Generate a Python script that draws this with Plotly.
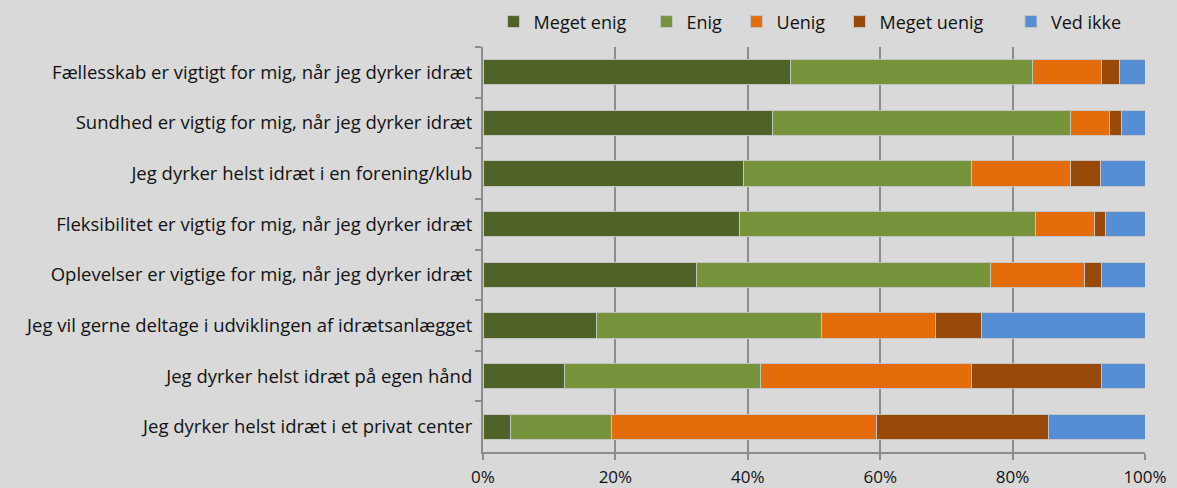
import plotly.graph_objects as go

statements = [
    "Fællesskab er vigtigt for mig, når jeg dyrker idræt",
    "Sundhed er vigtig for mig, når jeg dyrker idræt",
    "Jeg dyrker helst idræt i en forening/klub",
    "Fleksibilitet er vigtig for mig, når jeg dyrker idræt",
    "Oplevelser er vigtige for mig, når jeg dyrker idræt",
    "Jeg vil gerne deltage i udviklingen af idrætsanlægget",
    "Jeg dyrker helst idræt på egen hånd",
    "Jeg dyrker helst idræt i et privat center",
]

meget_enig = [46.5, 43.8, 39.4, 38.7, 32.2, 17.1, 12.3, 4.2]
enig = [36.5, 44.9, 34.4, 44.8, 44.4, 34.1, 29.6, 15.2]
uenig = [10.5, 6.0, 14.9, 8.9, 14.3, 17.2, 31.9, 40.1]
meget_uenig = [2.7, 1.8, 4.6, 1.7, 2.6, 6.9, 19.7, 25.9]
ved_ikke = [3.8, 3.5, 6.7, 5.9, 6.5, 24.7, 6.5, 14.6]

series = [
    ("Meget enig", meget_enig, "#4f6228"),
    ("Enig", enig, "#77933c"),
    ("Uenig", uenig, "#e46c0a"),
    ("Meget uenig", meget_uenig, "#984807"),
    ("Ved ikke", ved_ikke, "#558ed5"),
]

# where each legend entry starts, as a fraction of the plot width
legend_x = [0.016, 0.247, 0.383, 0.5385, 0.7975]

BG = "#d9d9d9"
GRID = "#8c8c8c"
FONT = "Open Sans"

fig = go.Figure()
legends = {}
for i, (name, vals, color) in enumerate(series):
    key = "legend" if i == 0 else f"legend{i + 1}"
    fig.add_trace(go.Bar(
        y=statements,
        x=[v / 100 for v in vals],
        name=name,
        orientation="h",
        legend=key,
        showlegend=True,
        marker=dict(color=color, line=dict(color="#c4c4c4", width=1)),
    ))
    legends[key] = dict(
        orientation="h",
        x=legend_x[i], xanchor="left",
        y=1.062, yanchor="middle",
        font=dict(size=18),
        itemwidth=30,
        bgcolor="rgba(0,0,0,0)",
    )

fig.update_layout(
    barmode="stack",
    bargap=0.5,
    showlegend=True,
    width=1177,
    height=488,
    paper_bgcolor=BG,
    plot_bgcolor=BG,
    font=dict(family=FONT, size=18, color="#111111"),
    margin=dict(l=483, r=32, t=47, b=36, autoexpand=False),
    **legends,
    xaxis=dict(
        range=[0, 1],
        tickvals=[0, 0.2, 0.4, 0.6, 0.8, 1.0],
        tickformat=".0%",
        showgrid=True,
        gridcolor=GRID,
        gridwidth=2,
        showline=True,
        linecolor=GRID,
        linewidth=2,
        ticks="outside",
        ticklen=6,
        tickcolor=GRID,
        tickwidth=2,
        zeroline=False,
        automargin=False,
        tickfont=dict(size=17),
        ticklabelstandoff=3,
    ),
    yaxis=dict(
        autorange="reversed",
        showline=True,
        linecolor=GRID,
        linewidth=2,
        ticks="outside",
        tickson="boundaries",
        ticklen=6,
        tickcolor=GRID,
        tickwidth=2,
        showgrid=False,
        automargin=False,
        tickfont=dict(size=18.5),
        ticklabelstandoff=5,
    ),
)

fig.write_html(
    "out.html",
    config={"displayModeBar": False},
    post_script="document.body.style.margin='0';document.body.style.background='#d9d9d9';",
)
